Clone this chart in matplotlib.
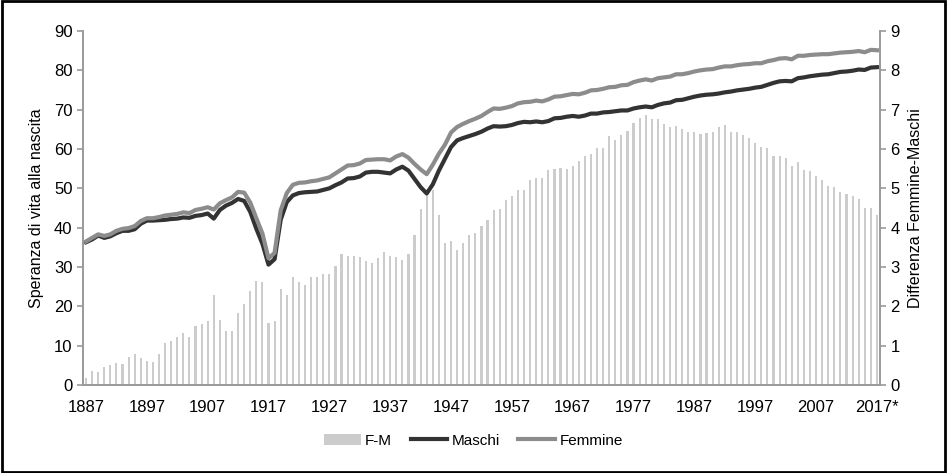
import matplotlib
matplotlib.use("Agg")
import matplotlib.pyplot as plt
from matplotlib.patches import Rectangle

# anni 1887-2017
years = list(range(1887, 2018))

# differenza F-M (asse destro)
diff_fm = [
    0.17, 0.36, 0.34, 0.46, 0.50, 0.55, 0.53, 0.71, 0.78, 0.68,   # 1887-1896
    0.61, 0.58, 0.80, 1.06, 1.12, 1.23, 1.31, 1.22, 1.50, 1.56,   # 1897-1906
    1.62, 2.30, 1.65, 1.38, 1.38, 1.83, 2.06, 2.40, 2.65, 2.62,   # 1907-1916
    1.58, 1.62, 2.43, 2.29, 2.74, 2.62, 2.53, 2.74, 2.75, 2.83,   # 1917-1926
    2.83, 3.03, 3.33, 3.29, 3.29, 3.25, 3.15, 3.10, 3.24, 3.38,   # 1927-1936
    3.29, 3.25, 3.18, 3.33, 3.81, 4.47, 4.87, 4.96, 4.32, 3.62,   # 1937-1946
    3.66, 3.42, 3.61, 3.81, 3.86, 4.04, 4.20, 4.46, 4.47, 4.71,   # 1947-1956
    4.81, 4.97, 4.96, 5.21, 5.27, 5.27, 5.47, 5.49, 5.52, 5.48,   # 1957-1966
    5.57, 5.69, 5.82, 5.87, 6.03, 6.03, 6.33, 6.24, 6.36, 6.46,   # 1967-1976
    6.65, 6.78, 6.86, 6.75, 6.76, 6.63, 6.57, 6.58, 6.50, 6.44,   # 1977-1986
    6.44, 6.37, 6.40, 6.44, 6.57, 6.61, 6.42, 6.42, 6.36, 6.27,   # 1987-1996
    6.16, 6.04, 6.02, 5.82, 5.81, 5.76, 5.58, 5.66, 5.47, 5.44,   # 1997-2006
    5.31, 5.21, 5.07, 5.04, 4.91, 4.85, 4.81, 4.72, 4.51, 4.49,   # 2007-2016
    4.32,                                                         # 2017
]

maschi = [
    36.3, 37.0, 38.0, 37.4, 37.8, 38.6, 39.2, 39.2, 39.6, 41.0,
    41.8, 41.8, 41.9, 42.0, 42.2, 42.3, 42.6, 42.5, 43.0, 43.2,
    43.6, 42.3, 44.5, 45.6, 46.3, 47.3, 46.8, 44.0, 39.7, 35.9,
    30.6, 32.0, 42.0, 46.5, 48.2, 48.8, 49.0, 49.1, 49.2, 49.6,
    50.0, 50.8, 51.5, 52.5, 52.6, 53.0, 54.0, 54.2, 54.2, 54.0,
    53.8, 54.8, 55.5, 54.5, 52.4, 50.3, 48.7, 51.0, 54.5, 57.5,
    60.5, 62.2, 62.8, 63.3, 63.8, 64.4, 65.2, 65.8, 65.7, 65.8,
    66.1, 66.6, 66.9, 66.8, 67.0, 66.8, 67.1, 67.8, 67.9, 68.2,
    68.4, 68.2, 68.5, 69.0, 69.0, 69.3, 69.4, 69.6, 69.8, 69.8,
    70.3, 70.6, 70.8, 70.6, 71.2, 71.6, 71.8, 72.4, 72.5, 72.9,
    73.3, 73.6, 73.8, 73.9, 74.1, 74.4, 74.6, 74.9, 75.1, 75.3,
    75.6, 75.8, 76.3, 76.8, 77.2, 77.3, 77.2, 78.0, 78.2, 78.5,
    78.7, 78.9, 79.0, 79.3, 79.6, 79.7, 79.9, 80.2, 80.1, 80.7,
    80.8,
]

femmine = [
    36.5, 37.4, 38.3, 37.9, 38.3, 39.2, 39.7, 39.9, 40.4, 41.7,
    42.4, 42.4, 42.7, 43.1, 43.3, 43.5, 43.9, 43.7, 44.5, 44.8,
    45.2, 44.6, 46.2, 47.0, 47.7, 49.1, 48.9, 46.4, 42.4, 38.5,
    32.2, 33.6, 44.4, 48.8, 50.9, 51.4, 51.5, 51.8, 52.0, 52.4,
    52.8, 53.8, 54.8, 55.8, 55.9, 56.3, 57.2, 57.3, 57.4, 57.4,
    57.1, 58.1, 58.7, 57.8, 56.2, 54.8, 53.6, 56.0, 58.8, 61.1,
    64.2, 65.6, 66.4, 67.1, 67.7, 68.4, 69.4, 70.3, 70.2, 70.5,
    70.9, 71.6, 71.9, 72.0, 72.3, 72.1, 72.6, 73.3, 73.4, 73.7,
    74.0, 73.9, 74.3, 74.9, 75.0, 75.3, 75.7, 75.8, 76.2, 76.3,
    77.0, 77.4, 77.7, 77.4, 78.0, 78.2, 78.4, 79.0, 79.0, 79.3,
    79.7, 80.0, 80.2, 80.3, 80.7, 81.0, 81.0, 81.3, 81.5, 81.6,
    81.8, 81.8, 82.3, 82.6, 83.0, 83.1, 82.8, 83.7, 83.7, 83.9,
    84.0, 84.1, 84.1, 84.3, 84.5, 84.6, 84.7, 84.9, 84.6, 85.2,
    85.1,
]

tick_labels = ["1887", "1897", "1907", "1917", "1927", "1937", "1947",
               "1957", "1967", "1977", "1987", "1997", "2007", "2017*"]

plt.rcParams['font.family'] = ['Liberation Sans', 'DejaVu Sans']

fig = plt.figure(figsize=(9.47, 4.73), dpi=100)
ax = fig.add_axes([0.0876, 0.186, 0.8416, 0.7485])
ax2 = ax.twinx()

x = list(range(len(years)))
spine_col = "#9a9a9a"

bars = ax2.bar(x, diff_fm, width=0.35, color="#cccccc", label="F-M")
l1, = ax.plot(x, maschi, color="#333333", lw=3.0, label="Maschi")
l2, = ax.plot(x, femmine, color="#8c8c8c", lw=3.0, label="Femmine")

# linee sopra le barre
ax.set_zorder(ax2.get_zorder() + 1)
ax.patch.set_visible(False)

ax.set_ylim(0, 90)
ax.set_yticks(range(0, 91, 10))
ax2.set_ylim(0, 9)
ax2.set_yticks(range(0, 10))
ax.set_xlim(-0.5, len(years) - 0.5)
ax.set_xticks(x[::10])
ax.set_xticklabels(tick_labels)

for a in (ax, ax2):
    a.spines['top'].set_visible(False)
    for s in ('left', 'right', 'bottom'):
        a.spines[s].set_color(spine_col)
        a.spines[s].set_linewidth(1.2)
    a.tick_params(axis='y', colors=spine_col, labelcolor="black", labelsize=12,
                  length=4, width=1.2)
ax.tick_params(axis='x', length=0, labelsize=12, pad=11)

ax.set_ylabel("Speranza di vita alla nascita", fontsize=11.5, labelpad=7)
ax2.set_ylabel("Differenza Femmine-Maschi", fontsize=11.5, labelpad=6)

fig.legend([bars, l1, l2], ["F-M", "Maschi", "Femmine"], loc="center",
           bbox_to_anchor=(0.5, 0.068), ncol=3, frameon=False, fontsize=11,
           handlelength=2.4, columnspacing=1.2, handletextpad=0.3)

fig.patches.append(Rectangle((0.002, 0.003), 0.996, 0.994, transform=fig.transFigure,
                             fill=False, edgecolor="black", linewidth=2))

fig.savefig("out.png", dpi=100)
